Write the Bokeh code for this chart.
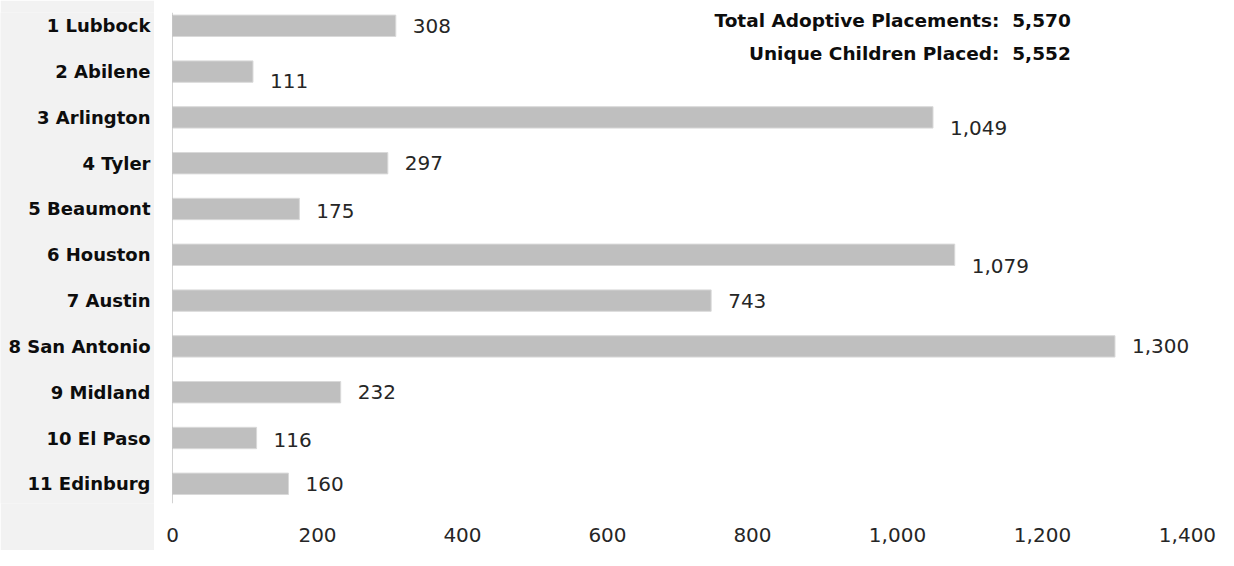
from bokeh.plotting import figure
from bokeh.layouts import row
from bokeh.models import (Label, FixedTicker, Range1d, Span,
                          ColumnDataSource, NumeralTickFormatter)
from bokeh.core.properties import value
from bokeh.embed import file_html
from bokeh.resources import INLINE

regions = ["1 Lubbock", "2 Abilene", "3 Arlington", "4 Tyler", "5 Beaumont",
           "6 Houston", "7 Austin", "8 San Antonio", "9 Midland", "10 El Paso",
           "11 Edinburg"]
placements = [308, 111, 1049, 297, 175, 1079, 743, 1300, 232, 116, 160]
x_ticks = [0, 200, 400, 600, 800, 1000, 1200, 1400]
summary_lines = ["Total Adoptive Placements:\u00a0 5,570",
                 "Unique Children Placed:\u00a0 5,552"]

# per-label vertical nudges (pixels) as in the original
label_nudge = [0, 9, 11, 0, 2, 11, 0, 0, 0, 2, 0]

idx = list(range(1, len(regions) + 1))
src = ColumnDataSource(dict(
    idx=idx, val=placements, name=regions,
    lab=[f"{v:,}" for v in placements],
    dy=label_nudge,
))

y_rng = Range1d(11.43, 0.710)
BAND = "#f2f2f2"
LABEL_FONT = "DejaVu Sans"
TOP, FH, BOT = 12, 491, 47

# ---- left panel: category labels on a light grey band ----
left = figure(width=154, frame_height=FH, min_border_left=0, min_border_right=0,
              min_border_top=TOP, min_border_bottom=BOT,
              x_range=Range1d(0, 154), y_range=y_rng,
              x_axis_type=None, y_axis_type=None,
              output_backend="svg", toolbar_location=None)
left.outline_line_color = None
left.xgrid.visible = False
left.ygrid.visible = False
left.background_fill_color = BAND
left.border_fill_color = BAND
left.text(x=150, y="idx", text="name", source=src,
          text_font=value(LABEL_FONT), text_font_style="bold",
          text_font_size="18px", text_color="#0d0d0d",
          text_align="right", text_baseline="middle")

# ---- right panel: bars ----
p = figure(frame_width=1046, frame_height=FH,
           min_border_left=18, min_border_right=0,
           min_border_top=TOP, min_border_bottom=BOT,
           x_range=Range1d(0, 1442.8), y_range=y_rng,
           y_axis_type=None,
           output_backend="svg", toolbar_location=None)
p.outline_line_color = None
p.xgrid.visible = False
p.ygrid.visible = False
p.background_fill_color = "white"
p.border_fill_color = "white"

p.hbar(y="idx", right="val", left=0, height=0.467, source=src,
       fill_color="#bfbfbf", line_color="#d9d9d9", line_width=1)

p.add_layout(Span(location=0, dimension="height",
                  line_color="#a6a6a6", line_width=1))

p.text(x="val", y="idx", text="lab", source=src, x_offset=17, y_offset="dy",
       text_font=value("DejaVu Sans"), text_font_size="20px",
       text_color="#262626", text_baseline="middle", text_align="left")

xa = p.xaxis[0]
xa.ticker = FixedTicker(ticks=x_ticks)
xa.formatter = NumeralTickFormatter(format="0,0")
xa.major_label_text_font = "DejaVu Sans"
xa.major_label_text_font_size = "20px"
xa.major_label_text_color = "#262626"
xa.major_label_standoff = 24
xa.axis_line_color = None
xa.major_tick_line_color = None
xa.minor_tick_line_color = None
xa.major_tick_out = 0
xa.major_tick_in = 0

for i, line in enumerate(summary_lines):
    p.add_layout(Label(x=1239, y=0.893 + i * 0.723, text=line,
                       text_align="right", text_baseline="middle",
                       text_font=LABEL_FONT, text_font_style="bold",
                       text_font_size="18.5px", text_color="#0d0d0d"))

layout = row(left, p, spacing=0)
open("out.html", "w").write(file_html(layout, INLINE))
